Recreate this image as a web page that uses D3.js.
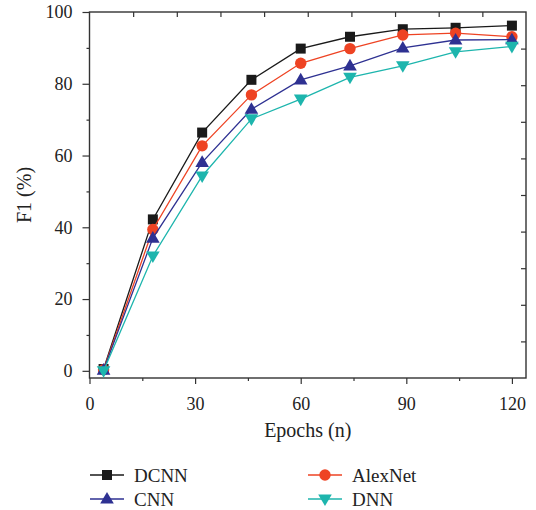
<!DOCTYPE html>
<html>
<head>
<meta charset="utf-8">
<script src="https://cdn.jsdelivr.net/npm/d3@7"></script>
<style>
  body { margin: 0; background: #fff; }
  text { font-family: "Liberation Serif", "DejaVu Serif", serif; fill: #222; }
</style>
</head>
<body>
<div id="chart"></div>
<script>
// Data
const epochs = [4, 18, 32, 46, 60, 74, 89, 104, 120];
const dcnn    = [0.5, 42.2, 66.4, 81.1, 89.8, 93.1, 95.2, 95.6, 96.2];
const alexnet = [0.3, 39.4, 62.7, 76.9, 85.7, 89.8, 93.6, 94.1, 93.1];
const cnn     = [0.2, 37.0, 58.1, 72.9, 81.1, 85.0, 90.0, 92.2, 92.3];
const dnn     = [0.0, 32.0, 54.3, 70.2, 75.7, 81.8, 85.0, 88.9, 90.4];
const xTicks = [0, 30, 60, 90, 120];
const yTicks = [0, 20, 40, 60, 80, 100];

const series = [
    { name: 'DCNN', values: dcnn, color: '#1a1a1a', marker: 'square' },
    { name: 'CNN', values: cnn, color: '#2e3192', marker: 'up' },
    { name: 'AlexNet', values: alexnet, color: '#ee4323', marker: 'circle' },
    { name: 'DNN', values: dnn, color: '#1db5ad', marker: 'down' },
];

const W = 536, H = 510;
const frame = { left: 89.5, right: 526, top: 12, bottom: 378 };

const svg = d3.select('#chart')
    .append('svg')
    .attr('width', W)
    .attr('height', H);

const x = d3.scaleLinear().domain([0, 124]).range([frame.left, frame.right]);
const y = d3.scaleLinear().domain([-2, 100]).range([frame.bottom, frame.top]);

// mirror axes (top/right) have 10 even inward ticks
const xm = d3.scaleLinear().domain([0, 10]).range([frame.left, frame.right]);
const ym = d3.scaleLinear().domain([0, 10]).range([frame.bottom, frame.top]);

const axisColor = '#333';

// bottom axis
const gx = svg.append('g').attr('transform', 'translate(0,' + frame.bottom + ')');
gx.call(d3.axisBottom(x).tickValues(xTicks).tickSize(6).tickSizeOuter(0).tickPadding(13));
gx.append('g').call(d3.axisBottom(x).tickValues([15, 45, 75, 105]).tickSize(3).tickFormat(''));
gx.selectAll('.domain').remove();

// left axis
const gy = svg.append('g').attr('transform', 'translate(' + frame.left + ',0)');
gy.call(d3.axisLeft(y).tickValues(yTicks).tickSize(7).tickSizeOuter(0).tickPadding(10));
gy.append('g').call(d3.axisLeft(y).tickValues([10, 30, 50, 70, 90]).tickSize(3).tickFormat(''));
gy.selectAll('.domain').remove();

// top / right mirror axes
const gt = svg.append('g').attr('transform', 'translate(0,' + frame.top + ')');
gt.call(d3.axisBottom(xm).tickValues(d3.range(1, 10)).tickSize(5).tickFormat(''));
gt.selectAll('.domain').remove();
const gr = svg.append('g').attr('transform', 'translate(' + frame.right + ',0)');
gr.call(d3.axisLeft(ym).tickValues(d3.range(1, 10)).tickSize(5).tickFormat(''));
gr.selectAll('.domain').remove();

svg.selectAll('.tick line').attr('stroke', axisColor).attr('stroke-width', 1.2);
svg.selectAll('.tick text').style('font-size', '18px').attr('fill', '#222');

// frame
svg.append('rect')
    .attr('x', frame.left).attr('y', frame.top)
    .attr('width', frame.right - frame.left)
    .attr('height', frame.bottom - frame.top)
    .attr('fill', 'none')
    .attr('stroke', axisColor)
    .attr('stroke-width', 1.4);

// axis titles
svg.append('text')
    .attr('x', (frame.left + frame.right) / 2)
    .attr('y', 437)
    .attr('text-anchor', 'middle')
    .style('font-size', '20px')
    .text('Epochs (n)');

svg.append('text')
    .attr('transform', 'translate(31,' + (frame.top + frame.bottom) / 2 + ') rotate(-90)')
    .attr('text-anchor', 'middle')
    .style('font-size', '20px')
    .text('F1 (%)');

function drawMarker(g, type, color, cx, cy) {
    if (type === 'square') {
        g.append('rect').attr('x', cx - 5).attr('y', cy - 5)
            .attr('width', 10).attr('height', 10).attr('fill', color);
    } else if (type === 'circle') {
        g.append('circle').attr('cx', cx).attr('cy', cy).attr('r', 5.7).attr('fill', color);
    } else if (type === 'up') {
        g.append('path').attr('d', 'M' + cx + ',' + (cy - 7) + 'L' + (cx + 6.8) + ',' + (cy + 4.6) + 'L' + (cx - 6.8) + ',' + (cy + 4.6) + 'Z').attr('fill', color);
    } else {
        g.append('path').attr('d', 'M' + cx + ',' + (cy + 7) + 'L' + (cx + 6.8) + ',' + (cy - 4.6) + 'L' + (cx - 6.8) + ',' + (cy - 4.6) + 'Z').attr('fill', color);
    }
}

const line = d3.line().x((d, i) => x(epochs[i])).y(d => y(d));

// draw order: DCNN, AlexNet, CNN, DNN (DNN on top)
const drawOrder = ['DCNN', 'AlexNet', 'CNN', 'DNN'];
drawOrder.forEach(function (name) {
    const s = series.find(d => d.name === name);
    const g = svg.append('g');
    g.append('path')
        .datum(s.values)
        .attr('d', line)
        .attr('fill', 'none')
        .attr('stroke', s.color)
        .attr('stroke-width', 1.3);
    s.values.forEach(function (v, i) {
        drawMarker(g, s.marker, s.color, x(epochs[i]), y(v));
    });
});

// legend
const legendPos = [
    { name: 'DCNN', lx: 90, ly: 475 },
    { name: 'CNN', lx: 90, ly: 499 },
    { name: 'AlexNet', lx: 308, ly: 475 },
    { name: 'DNN', lx: 308, ly: 499 },
];
legendPos.forEach(function (p) {
    const s = series.find(d => d.name === p.name);
    const g = svg.append('g');
    g.append('line')
        .attr('x1', p.lx).attr('x2', p.lx + 34)
        .attr('y1', p.ly).attr('y2', p.ly)
        .attr('stroke', s.color).attr('stroke-width', 1.3);
    drawMarker(g, s.marker, s.color, p.lx + 17, p.ly);
    g.append('text')
        .attr('x', p.lx + 44)
        .attr('y', p.ly + 6.5)
        .style('font-size', '19px')
        .text(s.name);
});
</script>
</body>
</html>
